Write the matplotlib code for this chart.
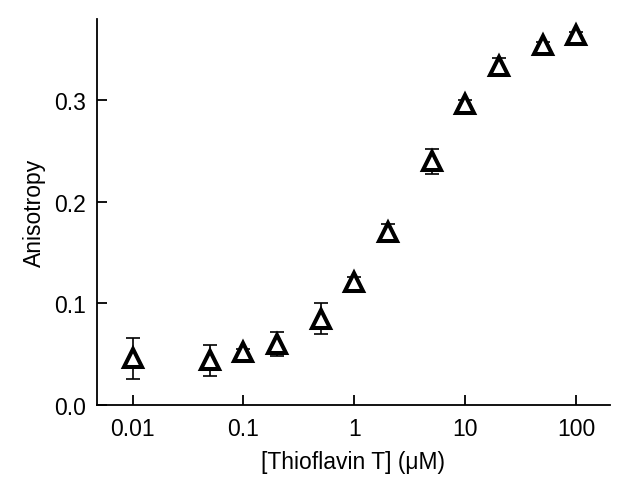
import matplotlib
matplotlib.use('Agg')
import matplotlib.pyplot as plt
from matplotlib.ticker import FixedLocator, NullLocator

plt.rcParams['font.family'] = ['Liberation Sans', 'DejaVu Sans']
plt.rcParams['font.size'] = 16.5

# data
conc = [0.01, 0.05, 0.1, 0.2, 0.5, 1, 2, 5, 10, 20, 50, 100]
aniso = [0.046, 0.044, 0.052, 0.060, 0.085, 0.121, 0.170, 0.240, 0.296, 0.334, 0.355, 0.364]
err = [0.020, 0.015, 0.003, 0.012, 0.015, 0.005, 0.008, 0.012, 0.004, 0.008, 0.003, 0.003]
xticks = [0.01, 0.1, 1, 10, 100]
xticklabels = ['0.01', '0.1', '1', '10', '100']
yticks = [0.0, 0.1, 0.2, 0.3]
yticklabels = ['0.0', '0.1', '0.2', '0.3']

fig = plt.figure(figsize=(6.19, 4.81), dpi=100)
ax = fig.add_axes([0.157, 0.156, 0.828, 0.802])

ax.errorbar(conc, aniso, yerr=err, fmt='none', ecolor='black', elinewidth=1.2,
            capsize=5, capthick=1.2, zorder=2)
ax.plot(conc, aniso, linestyle='none', marker='^', markersize=12.5,
        markerfacecolor='white', markeredgecolor='black', markeredgewidth=2.9, zorder=3)

ax.set_xscale('log')
ax.set_xlim(0.0048, 200)
ax.set_ylim(0, 0.38)
ax.xaxis.set_major_locator(FixedLocator(xticks))
ax.xaxis.set_minor_locator(NullLocator())
ax.set_xticklabels(xticklabels, fontsize=16.5)
ax.set_yticks(yticks)
ax.set_yticklabels(yticklabels, fontsize=16.5)

ax.spines['top'].set_visible(False)
ax.spines['right'].set_visible(False)
for s in ('left', 'bottom'):
    ax.spines[s].set_linewidth(1.3)
ax.tick_params(direction='in', length=7, width=1.3, pad=9, colors='black')
ax.tick_params(axis='y', pad=8)

ax.set_xlabel('[Thioflavin T] (\u03bcM)', fontsize=16.5, labelpad=7)
ax.set_ylabel('Anisotropy', fontsize=16.5, labelpad=6)

fig.savefig('out.png', dpi=100)
